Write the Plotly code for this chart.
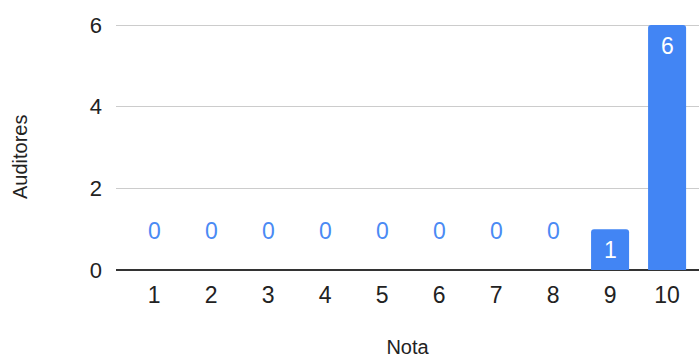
import plotly.graph_objects as go

notas = [1, 2, 3, 4, 5, 6, 7, 8, 9, 10]
auditores = [0, 0, 0, 0, 0, 0, 0, 0, 1, 6]
y_ticks = [0, 2, 4, 6]

BLUE = "#4285F4"
FONT = "Arial, Liberation Sans, sans-serif"

fig = go.Figure()
fig.add_trace(go.Bar(
    x=notas, y=auditores, width=0.667,
    marker=dict(color=BLUE, cornerradius=3, line=dict(width=0)),
    hoverinfo="skip",
))

annotations = []
for n, v in zip(notas, auditores):
    if v == 0:
        annotations.append(dict(x=n, y=v, xref="x", yref="y", text=str(v),
                                showarrow=False, yanchor="middle", yshift=39,
                                font=dict(color="#4a8af4", size=23, family=FONT)))
    else:
        annotations.append(dict(x=n, y=v, xref="x", yref="y", text=str(v),
                                showarrow=False, yanchor="middle", yshift=-21,
                                font=dict(color="white", size=23, family=FONT)))

annotations.append(dict(text="Auditores", xref="paper", yref="paper", x=0, y=0.443,
                        xshift=-96, xanchor="center", yanchor="middle", textangle=-90,
                        showarrow=False, font=dict(size=20, color="#222222", family=FONT)))

fig.update_layout(
    width=699, height=358,
    margin=dict(l=116, r=0, t=15, b=88),
    paper_bgcolor="white", plot_bgcolor="white",
    showlegend=False,
    font=dict(family=FONT, color="#222222", size=22),
    annotations=annotations,
    xaxis=dict(
        range=[0.333, 10.56], tickmode="array", tickvals=notas,
        ticktext=[str(n) for n in notas], showgrid=False, zeroline=False,
        showline=False, ticks="", ticklabelstandoff=9,
        tickfont=dict(size=23, color="#222222"),
        title=dict(text="Nota", font=dict(size=20, color="#222222"), standoff=34),
    ),
    yaxis=dict(
        range=[0, 6.245], tickmode="array", tickvals=y_ticks,
        ticktext=[str(t) for t in y_ticks], showgrid=True, gridcolor="#cccccc",
        gridwidth=1, zeroline=True, zerolinecolor="#333333", zerolinewidth=1.8,
        showline=False, ticks="", ticklabelstandoff=13,
        tickfont=dict(size=22, color="#222222"),
    ),
)

fig.write_html("out.html")
